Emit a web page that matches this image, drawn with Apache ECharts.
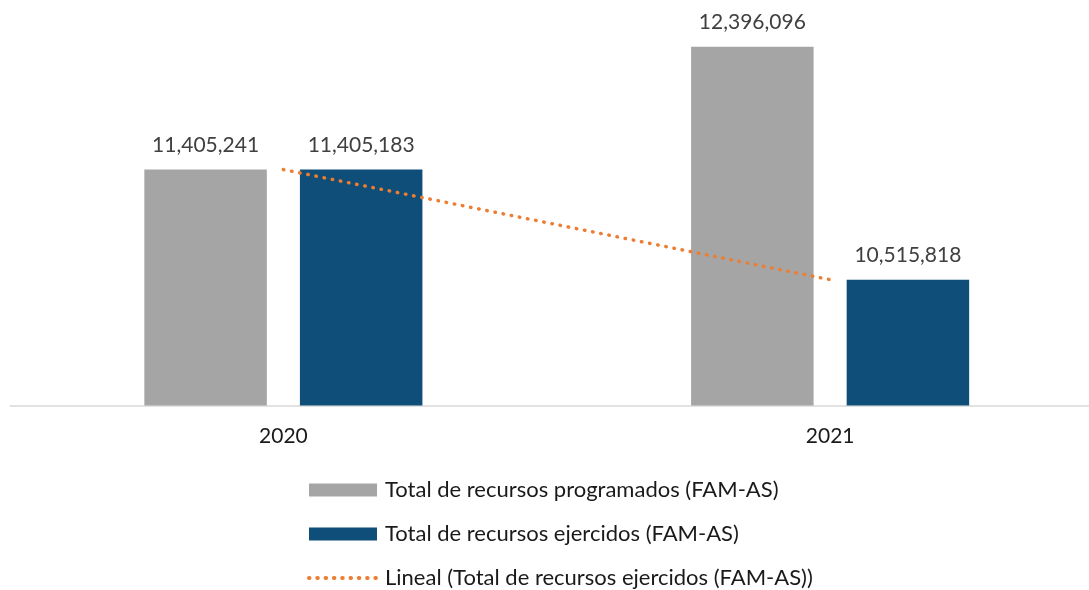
<!DOCTYPE html>
<html>
<head>
<meta charset="utf-8">
<script src="https://cdn.jsdelivr.net/npm/echarts@6/dist/echarts.min.js"></script>
<style>
html,body{margin:0;padding:0;background:#fff;}
#chart{width:1089px;height:590px;}
</style>
</head>
<body>
<div id="chart"></div>
<script>
const categories = ['2020', '2021'];
const programados = [11405241, 12396096];
const ejercidos = [11405183, 10515818];
const tendencia = [11405183, 10515818];
const seriesNames = [
  'Total de recursos programados (FAM-AS)',
  'Total de recursos ejercidos (FAM-AS)',
  'Lineal (Total de recursos ejercidos (FAM-AS))'
];

const FONT = 'Lato, "Open Sans", sans-serif';
const fmt = v => v.toLocaleString('en-US');

const chart = echarts.init(document.getElementById('chart'));
chart.setOption({
  animation: false,
  backgroundColor: '#ffffff',
  grid: { left: 10, width: 1093.5, top: 34, bottom: 184.5, containLabel: false, outerBoundsMode: 'none' },
  xAxis: {
    type: 'category',
    data: categories,
    axisLine: { show: true, lineStyle: { color: '#d9d9d9', width: 1.5 } },
    axisTick: { show: false },
    axisLabel: { color: '#1a1a1a', fontSize: 21, fontFamily: FONT, margin: 20 }
  },
  yAxis: {
    type: 'value',
    min: 9500000,
    max: 12500000,
    show: false,
    splitLine: { show: false }
  },
  legend: {
    orient: 'vertical',
    left: 307,
    top: 479,
    height: 200,
    padding: 0,
    itemWidth: 68,
    itemHeight: 13,
    itemGap: 22,
    textStyle: { color: '#1a1a1a', fontSize: 22, fontFamily: FONT, lineHeight: 22, padding: [0, 0, 0, 3] },
    data: [
      { name: seriesNames[0], icon: 'rect' },
      { name: seriesNames[1], icon: 'rect' },
      {
        name: seriesNames[2],
        itemStyle: { opacity: 0 },
        lineStyle: { color: '#ed7d31', width: 4, type: [0.5, 7.8], cap: 'round' }
      }
    ]
  },
  series: [
    {
      name: seriesNames[0],
      type: 'bar',
      data: programados,
      barWidth: 122.5,
      barGap: '27%',
      itemStyle: { color: '#a5a5a5' },
      label: {
        show: true, position: 'top', distance: 14,
        color: '#404040', fontSize: 21, fontFamily: FONT,
        formatter: p => fmt(p.value)
      }
    },
    {
      name: seriesNames[1],
      type: 'bar',
      data: ejercidos,
      barWidth: 122.5,
      barGap: '27%',
      itemStyle: { color: '#0f4e78' },
      label: {
        show: true, position: 'top', distance: 14,
        color: '#404040', fontSize: 21, fontFamily: FONT,
        formatter: p => fmt(p.value)
      }
    },
    {
      name: seriesNames[2],
      type: 'line',
      data: tendencia,
      symbol: 'none',
      z: 5,
      itemStyle: { color: '#ed7d31' },
      lineStyle: { color: '#ed7d31', width: 3.5, type: [0.5, 7.8], cap: 'round' }
    }
  ]
});
</script>
</body>
</html>
